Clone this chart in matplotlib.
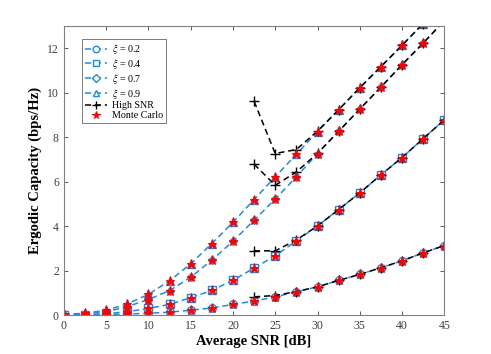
import numpy as np
import matplotlib.pyplot as plt

plt.rcParams['font.family'] = ['Liberation Serif', 'DejaVu Serif']
plt.rcParams['mathtext.fontset'] = 'stix'

# average SNR grid (dB)
snr = np.arange(0, 45.1, 2.5)
snr_high = np.arange(22.5, 45.1, 2.5)

xi_labels = ['0.2', '0.4', '0.7', '0.9']
markers = ['o', 's', 'D', '^']

# exact ergodic capacity (bps/Hz)
cap_02 = [0.0, 0.01, 0.02, 0.05, 0.08, 0.13, 0.22, 0.32, 0.48, 0.63, 0.82, 1.05, 1.27, 1.56, 1.83, 2.13, 2.44, 2.80, 3.13]
cap_04 = [0.01, 0.02, 0.06, 0.15, 0.30, 0.48, 0.78, 1.11, 1.57, 2.11, 2.67, 3.34, 4.01, 4.75, 5.50, 6.31, 7.09, 7.94, 8.79]
cap_07 = [0.02, 0.05, 0.15, 0.38, 0.70, 1.10, 1.70, 2.47, 3.32, 4.27, 5.22, 6.22, 7.27, 8.27, 9.27, 10.26, 11.27, 12.24, 13.25]
cap_09 = [0.03, 0.08, 0.22, 0.50, 0.93, 1.54, 2.30, 3.22, 4.17, 5.20, 6.22, 7.24, 8.26, 9.24, 10.23, 11.18, 12.14, 13.12, 14.10]
exact = [cap_02, cap_04, cap_07, cap_09]

# high SNR approximation
high_02 = [0.82, 0.88, 1.06, 1.27, 1.56, 1.83, 2.13, 2.44, 2.80, 3.13]
high_04 = [2.89, 2.89, 3.38, 4.01, 4.75, 5.50, 6.31, 7.09, 7.94, 8.79]
high_07 = [6.79, 5.84, 6.44, 7.28, 8.27, 9.27, 10.26, 11.27, 12.24, 13.25]
high_09 = [9.62, 7.27, 7.45, 8.28, 9.24, 10.23, 11.18, 12.14, 13.12, 14.10]
high = [high_02, high_04, high_07, high_09]

blue = '#1f8ae6'

fig = plt.figure(figsize=(4.91, 3.54), dpi=100)
ax = fig.add_axes([0.13, 0.11, 0.775, 0.816])

handles = []
for lab, m, y in zip(xi_labels, markers, exact):
    h, = ax.plot(snr, y, linestyle='--', color=blue, lw=1.1, marker=m,
                 markersize=5.5 if m != 'D' else 4.5, markerfacecolor='white',
                 markeredgecolor=blue, markeredgewidth=1.0,
                 label=r'$\xi$ = ' + lab, dashes=(4, 2.5))
    handles.append(h)

for i, y in enumerate(high):
    h, = ax.plot(snr_high, y, linestyle='--', color='black', lw=1.1, marker='+',
                 markersize=7, markeredgewidth=1.0, dashes=(4, 2.5),
                 label='High SNR')
    if i == 0:
        handles.append(h)

for i, y in enumerate(exact):
    h, = ax.plot(snr, y, linestyle='none', marker='*', color='red',
                 markersize=6.5, markeredgewidth=0.8, label='Monte Carlo')
    if i == 0:
        handles.append(h)

ax.set_xlim(0, 45)
ax.set_ylim(0, 13)
ax.set_xticks(np.arange(0, 46, 5))
ax.set_yticks(np.arange(0, 13, 2))
ax.tick_params(direction='in', top=True, right=True, labelsize=8.5,
               colors='#404040', length=3, width=0.6)
for s in ax.spines.values():
    s.set_color('#808080')
    s.set_linewidth(0.8)

ax.set_xlabel('Average SNR [dB]', fontsize=10.5, fontweight='bold', labelpad=2)
ax.set_ylabel('Ergodic Capacity (bps/Hz)', fontsize=10.5, fontweight='bold', labelpad=4)

leg = ax.legend(handles=handles, loc='upper left', bbox_to_anchor=(0.048, 0.955),
                fontsize=7.2, frameon=True, fancybox=False, handlelength=2.2,
                borderpad=0.3, labelspacing=0.08, handletextpad=0.5,
                borderaxespad=0.0, markerscale=0.85)
leg.get_frame().set_edgecolor('#404040')
leg.get_frame().set_linewidth(0.6)

fig.savefig('out.png', dpi=100)
